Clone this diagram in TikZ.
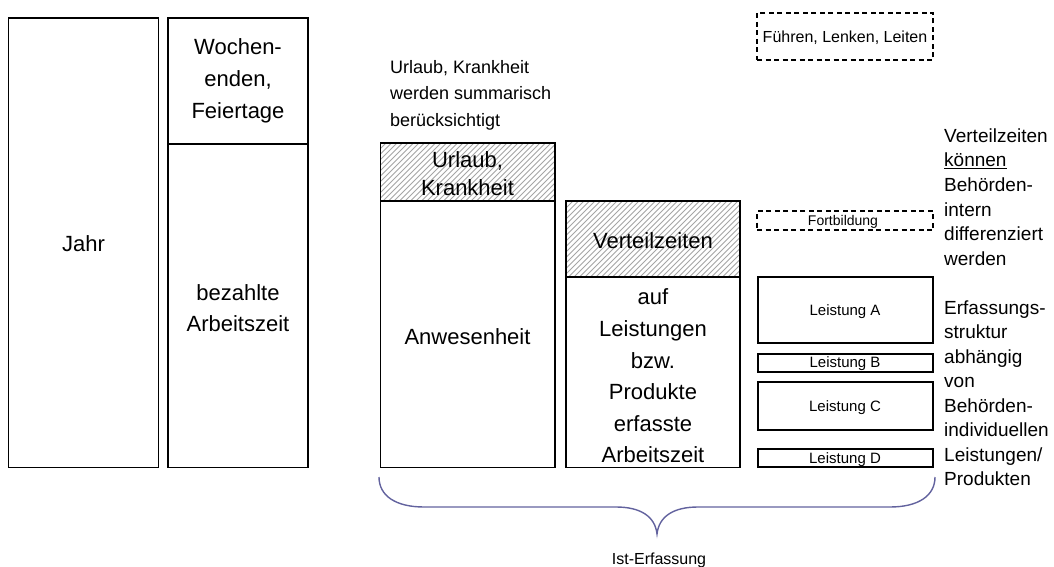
\documentclass[tikz,border=0pt]{standalone}
\usepackage{fontspec}
\setmainfont{Liberation Sans}
\usetikzlibrary{calc}
\definecolor{bracecol}{RGB}{98,98,158}
\definecolor{hatchgray}{RGB}{165,165,165}

% rectangle node from its two corners: name, x1, y1, x2, y2, style
\newcommand\mkbox[6]{%
  \node[#6, minimum width={#4-#2}, minimum height={#5-#3}]
    (#1) at ({(#2+#4)/2},{(#3+#5)/2}) {};}

\begin{document}
\begin{tikzpicture}[x=1pt,y=-1pt,
  frame/.style={draw=black, line width=1.1pt, inner sep=0pt, outer sep=0pt, fill=white},
  dashframe/.style={frame, dash pattern=on 5pt off 3.5pt},
  hatched/.style={frame, path picture={
      \foreach \k in {0,5.5,...,270}
        \draw[hatchgray, line width=0.85pt]
          ($(path picture bounding box.south west)+(\k-80,0)$) -- ++(80,-80);}},
  big/.style={font=\fontsize{22}{32}\selectfont, align=center, inner sep=0pt},
  note/.style={font=\fontsize{19}{24.6}\selectfont, align=left, anchor=west, inner sep=0pt},
  small/.style={font=\fontsize{15}{18}\selectfont, inner sep=0pt},
  brace/.style={draw=bracecol, line width=1.4pt}]
\useasboundingbox (0,0) rectangle (1054,567);

% year and paid working time
\mkbox{jahr}{8.5}{18}{158.5}{467.5}{frame}
\mkbox{wochenende}{168}{18}{308}{144}{frame}
\mkbox{bezahlt}{168}{144}{308}{467.5}{frame}
\node[big] (tjahr) at (83.5,244) {Jahr};
\node[big] (twoch) at (238,81) {Wochen-\\enden,\\Feiertage};
\node[big, font=\fontsize{22}{31}\selectfont] (tbez) at (238,308) {bezahlte\\Arbeitszeit};

% attendance column
\mkbox{urlaub}{380.5}{143}{555}{201}{hatched}
\mkbox{anwes}{380.5}{201}{555}{467.5}{frame}
\node[big, font=\fontsize{22}{28}\selectfont] (turlaub) at (467.5,174) {Urlaub,\\Krankheit};
\node[big] (tanwes) at (467.5,337) {Anwesenheit};

% recorded time column
\mkbox{verteil}{566}{201}{740}{277}{hatched}
\mkbox{erfasst}{566}{277}{740}{467.5}{frame}
\node[big] (tverteil) at (653,241) {Verteilzeiten};
\node[big, font=\fontsize{22}{31.6}\selectfont] (terfasst) at (653,376)
  {auf\\Leistungen\\bzw.\\Produkte\\erfasste\\Arbeitszeit};

% services
\mkbox{fuehren}{757}{13}{933}{60}{dashframe}
\mkbox{fortb}{757}{211}{933}{230}{dashframe}
\mkbox{la}{758}{277}{933}{343}{frame}
\mkbox{lb}{758}{354}{933}{372}{frame}
\mkbox{lc}{758}{382}{933}{430}{frame}
\mkbox{ld}{758}{449}{933}{467}{frame}
\node[small, font=\fontsize{16}{18}\selectfont] (tfuehren) at (845,38) {Führen, Lenken, Leiten};
\node[small, font=\fontsize{14}{16}\selectfont] (tfortb) at (843,222) {Fortbildung};
\node[small] (tla) at (845,312) {Leistung A};
\node[small] (tlb) at (845,364) {Leistung B};
\node[small] (tlc) at (845,408) {Leistung C};
\node[small] (tld) at (845,460) {Leistung D};

% annotations
\node[note, font=\fontsize{18}{26.5}\selectfont] (tsumm) at (390,95)
  {Urlaub, Krankheit\\werden summarisch\\berücksichtigt};
\node[note] (tdiff) at (944,197)
  {Verteilzeiten\\\underline{können}\\Behörden-\\intern\\differenziert\\werden};
\node[note, font=\fontsize{19}{24.5}\selectfont] (tstrukt) at (944,393)
  {Erfassungs-\\struktur\\abhängig\\von\\Behörden-\\individuellen\\Leistungen/\\Produkten};

% curly brace under the recorded columns
\coordinate (bl) at (379,477);
\coordinate (br) at (935,477);
\coordinate (tip) at (657,534);
\draw[brace] (bl) .. controls (379,496) and (396,507) .. (424,507)
  -- (616,507) .. controls (640,507) and (655,516) .. (tip)
  .. controls (659,516) and (674,507) .. (698,507)
  -- (890,507) .. controls (918,507) and (935,496) .. (br);
\node[small, font=\fontsize{16}{18}\selectfont] (tist) at (659,560) {Ist-Erfassung};
\end{tikzpicture}
\end{document}
